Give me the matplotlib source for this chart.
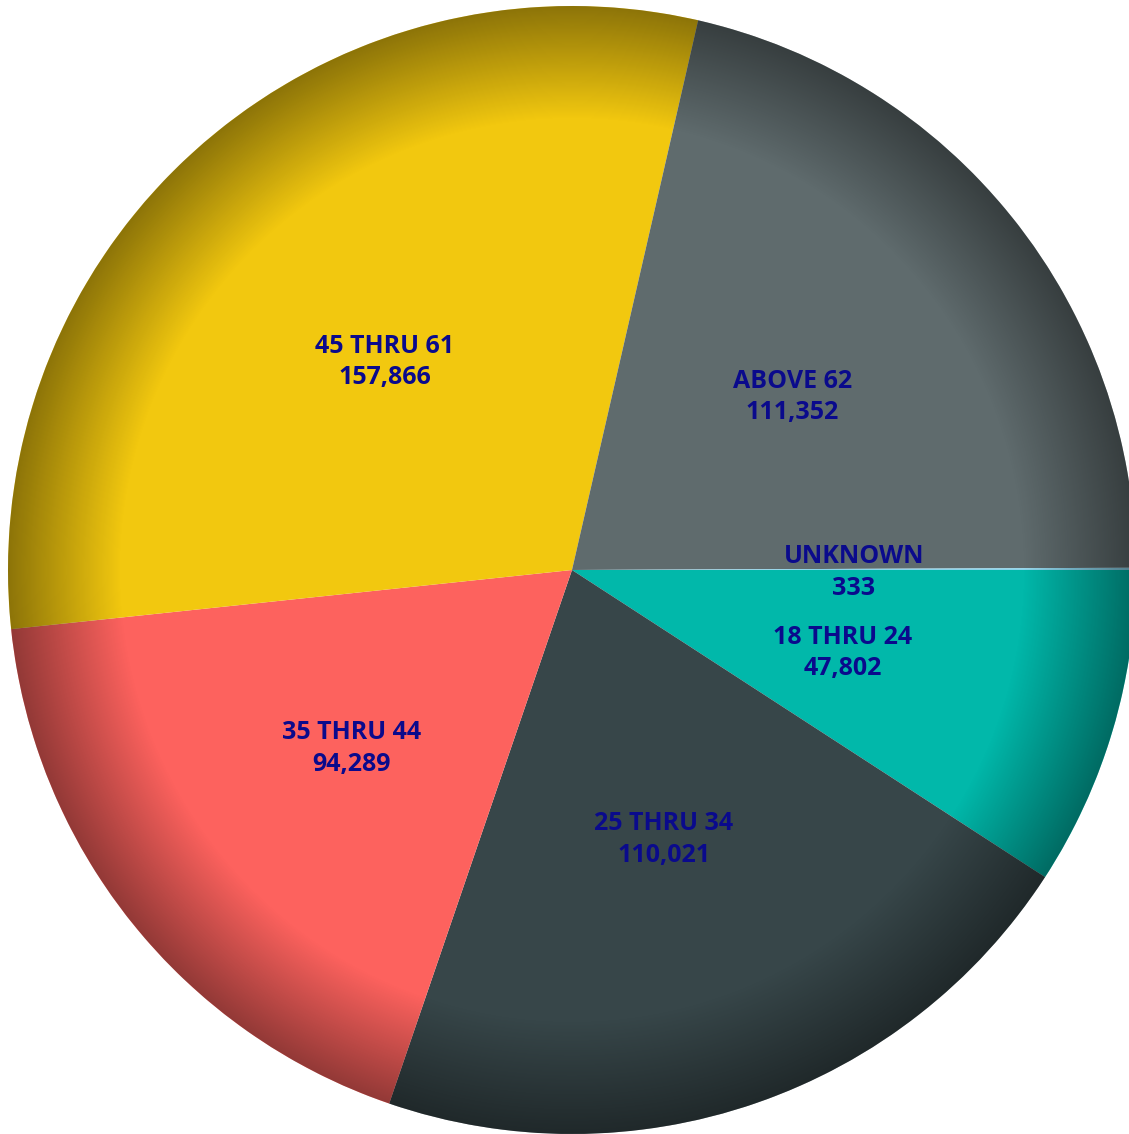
import numpy as np
import matplotlib
matplotlib.use("Agg")
import matplotlib.pyplot as plt
from matplotlib.patches import Circle

categories = ["18 THRU 24", "25 THRU 34", "35 THRU 44", "45 THRU 61", "ABOVE 62", "UNKNOWN"]
values = [47802, 110021, 94289, 157866, 111352, 333]
colors = ["#01B8AA", "#374649", "#FD625E", "#F2C80F", "#5F6B6D", "#8AD4EB"]

W, H = 1129, 1134
fig = plt.figure(figsize=(W / 100, H / 100), dpi=100)
ax = fig.add_axes([0, 0, 1, 1])
R = 564.0
cx, cy = 572.0, 570.0
ax.set_aspect("equal")
ax.axis("off")

wedges, _ = ax.pie(values, colors=colors, startangle=0, counterclock=False,
                   radius=1.0, center=(0, 0), wedgeprops=dict(linewidth=0, antialiased=True))

# edge shading overlay
n = 1200
xs = np.linspace(-1.0, 1.0, n)
X, Y = np.meshgrid(xs, xs)
r = np.sqrt(X ** 2 + Y ** 2)
alpha = np.clip((r - 0.8) / 0.2, 0, 1) * 0.42
img = np.zeros((n, n, 4))
img[..., 3] = alpha
im = ax.imshow(img, extent=(-1, 1, -1, 1), origin="lower", zorder=3, interpolation="bilinear")
clip = Circle((0, 0), 1.0, transform=ax.transData)
im.set_clip_path(clip)
ax.set_xlim(-cx / R, (W - cx) / R)
ax.set_ylim(-(H - cy) / R, cy / R)

# labels
total = sum(values)
ang = 0.0
for cat, v in zip(categories, values):
    span = 360.0 * v / total
    mid = np.deg2rad(ang - span / 2)
    ang -= span
    x, y = 0.5 * np.cos(mid), 0.5 * np.sin(mid) - 3.0 / R
    ax.text(x, y, f"{cat}\n{v:,}", ha="center", va="center", color="#0A0A8C",
            fontsize=18, fontweight="bold", family=["Open Sans", "DejaVu Sans"],
            linespacing=1.35, zorder=5)

fig.savefig("out.png", dpi=100)
